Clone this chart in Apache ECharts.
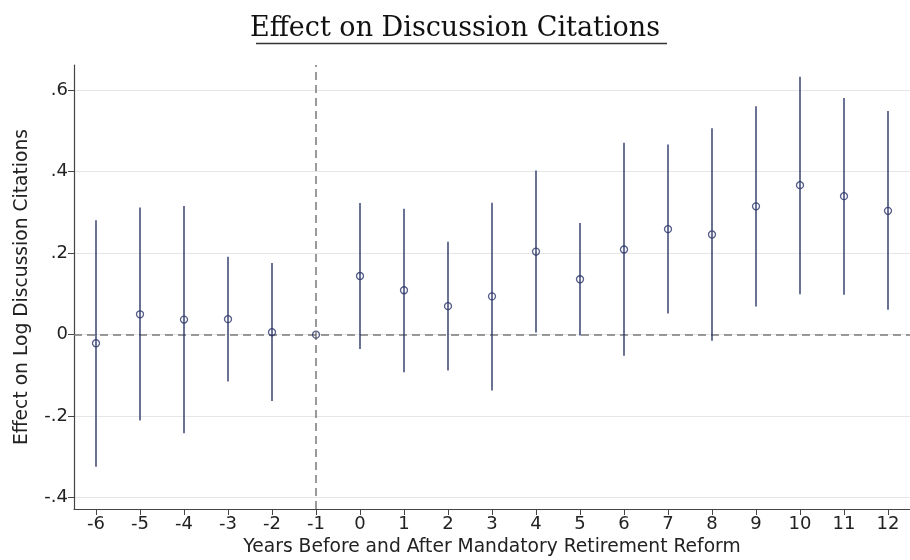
<!DOCTYPE html>
<html>
<head>
<meta charset="utf-8">
<title>Effect on Discussion Citations</title>
<script src="https://cdn.jsdelivr.net/npm/echarts@6/dist/echarts.min.js"></script>
<style>
  html, body { margin: 0; padding: 0; background: #fff; }
  #chart { width: 910px; height: 560px; }
</style>
</head>
<body>
<div id="chart"></div>
<script>
// Event-time categories (years relative to the reform)
const years = ['-6', '-5', '-4', '-3', '-2', '-1', '0', '1', '2', '3', '4', '5', '6', '7', '8', '9', '10', '11', '12'];
// Point estimates
const estimates = [-0.021, 0.050, 0.037, 0.038, 0.006, 0.000, 0.144, 0.109, 0.070, 0.094, 0.204, 0.136, 0.209, 0.259, 0.246, 0.315, 0.367, 0.340, 0.304];
// Confidence interval bounds (no interval for the omitted year -1)
const ciLow  = [-0.324, -0.211, -0.242, -0.115, -0.163, null, -0.035, -0.092, -0.088, -0.137, 0.005, -0.002, -0.052, 0.052, -0.015, 0.069, 0.099, 0.098, 0.061];
const ciHigh = [0.281, 0.312, 0.316, 0.191, 0.176, null, 0.323, 0.309, 0.228, 0.324, 0.403, 0.274, 0.471, 0.467, 0.507, 0.561, 0.633, 0.581, 0.549];
// Y-axis tick values
const yTicks = [-0.4, -0.2, 0, 0.2, 0.4, 0.6];

const NAVY = '#2a3568';
const REF = '#7a7a7a';
const AXIS = '#444';
const SANS = 'DejaVu Sans';

const intervalData = years.map((y, i) => [i, ciLow[i], ciHigh[i]]).filter(d => d[1] !== null);
const pointData = years.map((y, i) => [i, estimates[i]]);

// Stata-style tick labels: ".6", "-.2", "0"
function fmtTick(v) {
  const r = Math.round(v * 10) / 10;
  if (r === 0) return '0';
  return (r < 0 ? '-' : '') + String(Math.abs(r)).replace(/^0/, '');
}

const chart = echarts.init(document.getElementById('chart'), null, { renderer: 'canvas' });

chart.setOption({
  animation: false,
  backgroundColor: '#fff',
  title: {
    text: 'Effect on Discussion Citations',
    left: 'center',
    top: 10,
    textStyle: {
      fontFamily: 'DejaVu Serif',
      fontWeight: 'normal',
      fontSize: 27,
      color: '#111'
    }
  },
  graphic: [{
    type: 'line',
    shape: { x1: 256, y1: 43.5, x2: 667, y2: 43.5 },
    style: { stroke: '#333', lineWidth: 1.3 },
    silent: true
  }],
  grid: { left: 74, right: 0, top: 65, bottom: 51, outerBoundsMode: 'none', containLabel: false },
  xAxis: {
    type: 'category',
    data: years,
    boundaryGap: true,
    name: 'Years Before and After Mandatory Retirement Reform',
    nameLocation: 'middle',
    nameGap: 28,
    nameTextStyle: { fontFamily: SANS, fontSize: 18.7, color: '#222' },
    axisLine: { show: true, onZero: false, lineStyle: { color: AXIS, width: 1.2 } },
    axisTick: { show: true, alignWithLabel: true, length: 6, lineStyle: { color: AXIS } },
    axisLabel: { fontFamily: SANS, fontSize: 18, color: '#222', margin: 6, interval: 0 },
    splitLine: { show: false }
  },
  yAxis: {
    type: 'value',
    min: -0.428,
    max: 0.662,
    name: 'Effect on Log Discussion Citations',
    nameLocation: 'middle',
    nameGap: 42,
    nameRotate: 90,
    nameTextStyle: { fontFamily: SANS, fontSize: 18.7, color: '#222' },
    axisLine: { show: true, lineStyle: { color: AXIS, width: 1.2 } },
    axisTick: { show: true, length: 6, lineStyle: { color: AXIS }, customValues: yTicks },
    axisLabel: {
      fontFamily: SANS, fontSize: 18, color: '#222', margin: 6,
      customValues: yTicks, formatter: fmtTick
    },
    splitLine: { show: true, lineStyle: { color: '#e6e6e6', width: 1 } }
  },
  series: [
    {
      name: 'interval',
      type: 'custom',
      data: intervalData,
      encode: { x: 0, y: [1, 2] },
      z: 3,
      renderItem: function (params, api) {
        const x = api.value(0);
        const lo = api.coord([x, api.value(1)]);
        const hi = api.coord([x, api.value(2)]);
        return {
          type: 'line',
          shape: { x1: lo[0], y1: lo[1], x2: hi[0], y2: hi[1] },
          style: { stroke: NAVY, lineWidth: 1.4 }
        };
      }
    },
    {
      name: 'estimate',
      type: 'scatter',
      data: pointData,
      symbol: 'circle',
      symbolSize: 7,
      z: 4,
      itemStyle: { color: 'rgba(255,255,255,0)', borderColor: NAVY, borderWidth: 1.3 },
      markLine: {
        silent: true,
        symbol: 'none',
        label: { show: false },
        lineStyle: { color: REF, type: [8, 5], width: 1.5 },
        data: [
          { yAxis: 0 },
          { xAxis: '-1' }
        ],
        z: 2
      }
    }
  ]
});
</script>
</body>
</html>
